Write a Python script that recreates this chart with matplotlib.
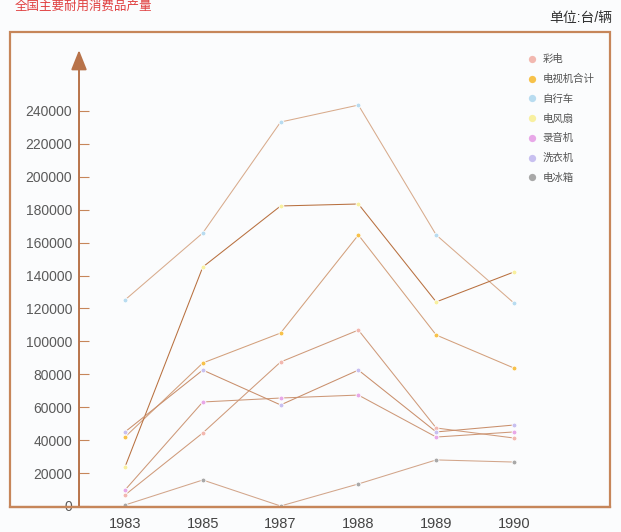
import matplotlib
matplotlib.use("Agg")
import matplotlib.pyplot as plt
from matplotlib.patches import Rectangle

plt.rcParams["font.family"] = ["Liberation Sans", "Noto Sans CJK SC", "DejaVu Sans"]

years = ["1983", "1985", "1987", "1988", "1989", "1990"]
y_ticks = list(range(0, 240001, 20000))

# values (台/辆)
zixingche = [125200, 165900, 233300, 243600, 164700, 123300]
dianfengshan = [23700, 145200, 182300, 183500, 124000, 142200]
dianshiji_heji = [41900, 86900, 105100, 164700, 103900, 83800]
xiyiji = [45000, 82600, 61400, 82600, 45000, 49200]
luyinji = [9700, 63200, 65600, 67400, 41900, 45000]
caidian = [6700, 44400, 87500, 106900, 47400, 41300]
dianbingxiang = [600, 15800, 0, 13400, 28000, 26700]

series = [
    ("彩电", caidian, "#f2b8b0", "#cf9a7a"),
    ("电视机合计", dianshiji_heji, "#f7c24a", "#d3a07c"),
    ("自行车", zixingche, "#b8dcf0", "#d8ab8c"),
    ("电风扇", dianfengshan, "#f8f0a0", "#b8703f"),
    ("录音机", luyinji, "#e8a8e8", "#cd9878"),
    ("洗衣机", xiyiji, "#c8c0f0", "#c98f6c"),
    ("电冰箱", dianbingxiang, "#a8a8a8", "#d2a58a"),
]

brown = "#c6865a"
W, H = 621, 532
fig = plt.figure(figsize=(W / 100, H / 100), dpi=100, facecolor="#fbfcfd")

ax = fig.add_axes([10 / W, (H - 507) / H, 600 / W, 475 / H])
ax.set_facecolor("#fbfcfd")

x = list(range(len(years)))
handles = []
for name, vals, mcol, lcol in series:
    (ln,) = ax.plot(x, vals, color=lcol, lw=0.75, marker="o", ms=3.5,
                    mfc=mcol, mec="white", mew=0.6, label=name, zorder=3)
    handles.append(ln)

ax.set_xlim(-1.478, 6.234)
ax.set_ylim(-608, 288000)

ax.set_xticks(x)
ax.set_xticklabels(years)
ax.set_yticks(y_ticks)
ax.set_yticklabels([str(v) for v in y_ticks])

for s in ["top", "right"]:
    ax.spines[s].set_visible(False)
ax.spines["bottom"].set_color(brown)
ax.spines["bottom"].set_linewidth(1.6)
ax.spines["left"].set_position(("data", -0.591))
ax.spines["left"].set_visible(False)

ax.tick_params(axis="x", length=0, pad=7, labelsize=10.5, labelcolor="#444444")
ax.tick_params(axis="y", direction="in", length=7, width=0.8, color=brown,
               pad=5, labelsize=10, labelcolor="#5a5a5a")

# y axis with arrow
ax.annotate("", xy=(-0.591, 277000), xytext=(-0.591, -608),
            arrowprops=dict(arrowstyle="-|>,head_length=1.0,head_width=0.4",
                            color="#b8734a", lw=1.4, mutation_scale=12,
                            shrinkA=0, shrinkB=0), zorder=4)

# outer frame
ax.add_patch(Rectangle((0, 0), 1, 1, transform=ax.transAxes, fill=False,
                       ec=brown, lw=1.6, clip_on=False, zorder=5))

leg = ax.legend(handles=handles, loc="upper left",
                bbox_to_anchor=(523 / W, 1 - 45 / H), bbox_transform=fig.transFigure,
                frameon=False, handlelength=0, handletextpad=1.0,
                labelspacing=0.93, fontsize=7.5, markerscale=1.5)
for t in leg.get_texts():
    t.set_color("#555555")
for h in leg.legend_handles:
    h.set_markeredgecolor("none")

fig.text(612 / W, 1 - 18 / H, "单位:台/辆", ha="right", va="center",
         fontsize=10, color="#333333")
fig.text(15 / W, 1 - 1 / H, "全国主要耐用消费品产量", ha="left", va="top",
         fontsize=9, color="#e04040")

fig.savefig("out.png", dpi=100, facecolor=fig.get_facecolor())
